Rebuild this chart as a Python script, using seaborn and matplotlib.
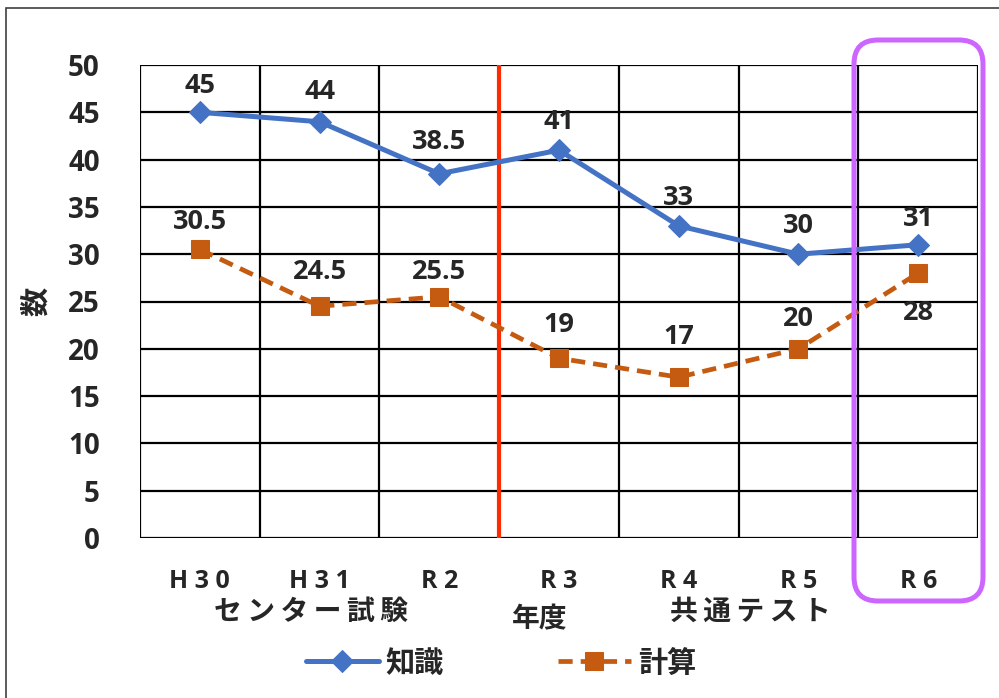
import matplotlib
matplotlib.use("Agg")
import matplotlib.pyplot as plt
from matplotlib.patches import FancyBboxPatch, Rectangle
from matplotlib.transforms import IdentityTransform
import seaborn as sns
import pandas as pd

years = ["H30", "H31", "R2", "R3", "R4", "R5", "R6"]
knowledge = [45, 44, 38.5, 41, 33, 30, 31]
calculation = [30.5, 24.5, 25.5, 19, 17, 20, 28]
knowledge_label = "知識"
calculation_label = "計算"
y_ticks = [0, 5, 10, 15, 20, 25, 30, 35, 40, 45, 50]

sns.set_theme(style="white")
plt.rcParams["font.family"] = ["Open Sans", "Noto Sans CJK JP", "DejaVu Sans"]
plt.rcParams["font.weight"] = "bold"

BLUE = "#4472C4"
ORANGE = "#C55A11"
W, H = 999, 698
PX = 72 / 100  # points per pixel at 100 dpi

df = pd.DataFrame({"year": years, "knowledge": knowledge, "calculation": calculation})

fig = plt.figure(figsize=(W / 100, H / 100), dpi=100)
ax = fig.add_axes([140 / W, 1 - 538 / H, (978 - 140) / W, (538 - 65) / H])

sns.lineplot(data=df, x="year", y="knowledge", ax=ax, color=BLUE, lw=3.6,
             marker="D", markersize=11, markeredgecolor=BLUE, sort=False,
             label=knowledge_label, zorder=3)
sns.lineplot(data=df, x="year", y="calculation", ax=ax, color=ORANGE, lw=3.4,
             marker="s", markersize=12.5, markeredgecolor=ORANGE, sort=False,
             linestyle=(0, (3, 1.7)), label=calculation_label, zorder=3)

ax.set_xlim(-0.5, len(years) - 0.5)
ax.set_ylim(0, 50)
ax.set_yticks(y_ticks)
ax.set_yticklabels([str(v) for v in y_ticks], fontsize=20, fontweight="bold")
ax.set_xticks(range(len(years)))
ax.set_xticklabels([" ".join(y) for y in years], fontsize=18, fontweight="bold")
ax.tick_params(axis="x", length=0, pad=22)
ax.tick_params(axis="y", length=0, pad=29)

# grid: horizontal every 5, vertical at category boundaries
for v in y_ticks:
    ax.axhline(v, color="black", lw=1.6, zorder=0.5)
for i in range(len(years) + 1):
    ax.axvline(i - 0.5, color="black", lw=1.6, zorder=0.5)
for s in ax.spines.values():
    s.set_visible(False)

# boundary between the two exam eras
ax.axvline(2.5, color="#FF2A00", lw=3.0, zorder=1)

ax.set_xlabel("")
ax.set_ylabel("数", fontsize=21, fontweight="bold")
ax.yaxis.label.set_va("center")
ax.yaxis.set_label_coords((37 - 140) / (978 - 140), 0.5)

# value labels (vertical offsets in pixels from each marker)
knowledge_dy = [26, 30, 32, 28, 28, 28, 26]
calculation_dy = [27, 34, 25, 33, 40, 30, -40]
for i, v in enumerate(knowledge):
    ax.annotate(f"{v:g}", (i, v), xytext=(0, knowledge_dy[i] * PX),
                textcoords="offset points", ha="center", va="center",
                fontsize=19.5, fontweight="bold")
for i, v in enumerate(calculation):
    ax.annotate(f"{v:g}", (i, v), xytext=(0, calculation_dy[i] * PX),
                textcoords="offset points", ha="center", va="center",
                fontsize=19.5, fontweight="bold")

# era captions and axis title
fig.text(311 / W, 1 - 612 / H, "\u2009".join("センター試験"), ha="center",
         va="center", fontsize=20, fontweight="bold")
fig.text(540 / W, 1 - 620 / H, "年度", ha="center", va="center",
         fontsize=20, fontweight="bold")
fig.text(750 / W, 1 - 612 / H, "\u2009".join("共通テスト"), ha="center",
         va="center", fontsize=20, fontweight="bold")

ax.get_legend().remove()
handles, labels = ax.get_legend_handles_labels()
fig.legend(handles, labels, loc="center", bbox_to_anchor=(501 / W, 1 - 664 / H),
           ncol=2, frameon=False, handlelength=2.5, columnspacing=3.9,
           handletextpad=0.25, prop={"weight": "bold", "size": 21})

# highlight box around the latest year (pixel coordinates)
fig.patches.append(FancyBboxPatch((854, H - 601), 983 - 854, 601 - 40,
                                  boxstyle="round,pad=0,rounding_size=24",
                                  transform=IdentityTransform(), fill=False,
                                  edgecolor="#CC66FF", lw=3.6, zorder=5))

# outer frame
fig.patches.append(Rectangle((6 / W, -0.01), 0.995, 1 - 8 / H + 0.01,
                             transform=fig.transFigure, fill=False,
                             edgecolor="#404040", lw=1.2))

fig.savefig("out.png", dpi=100)
